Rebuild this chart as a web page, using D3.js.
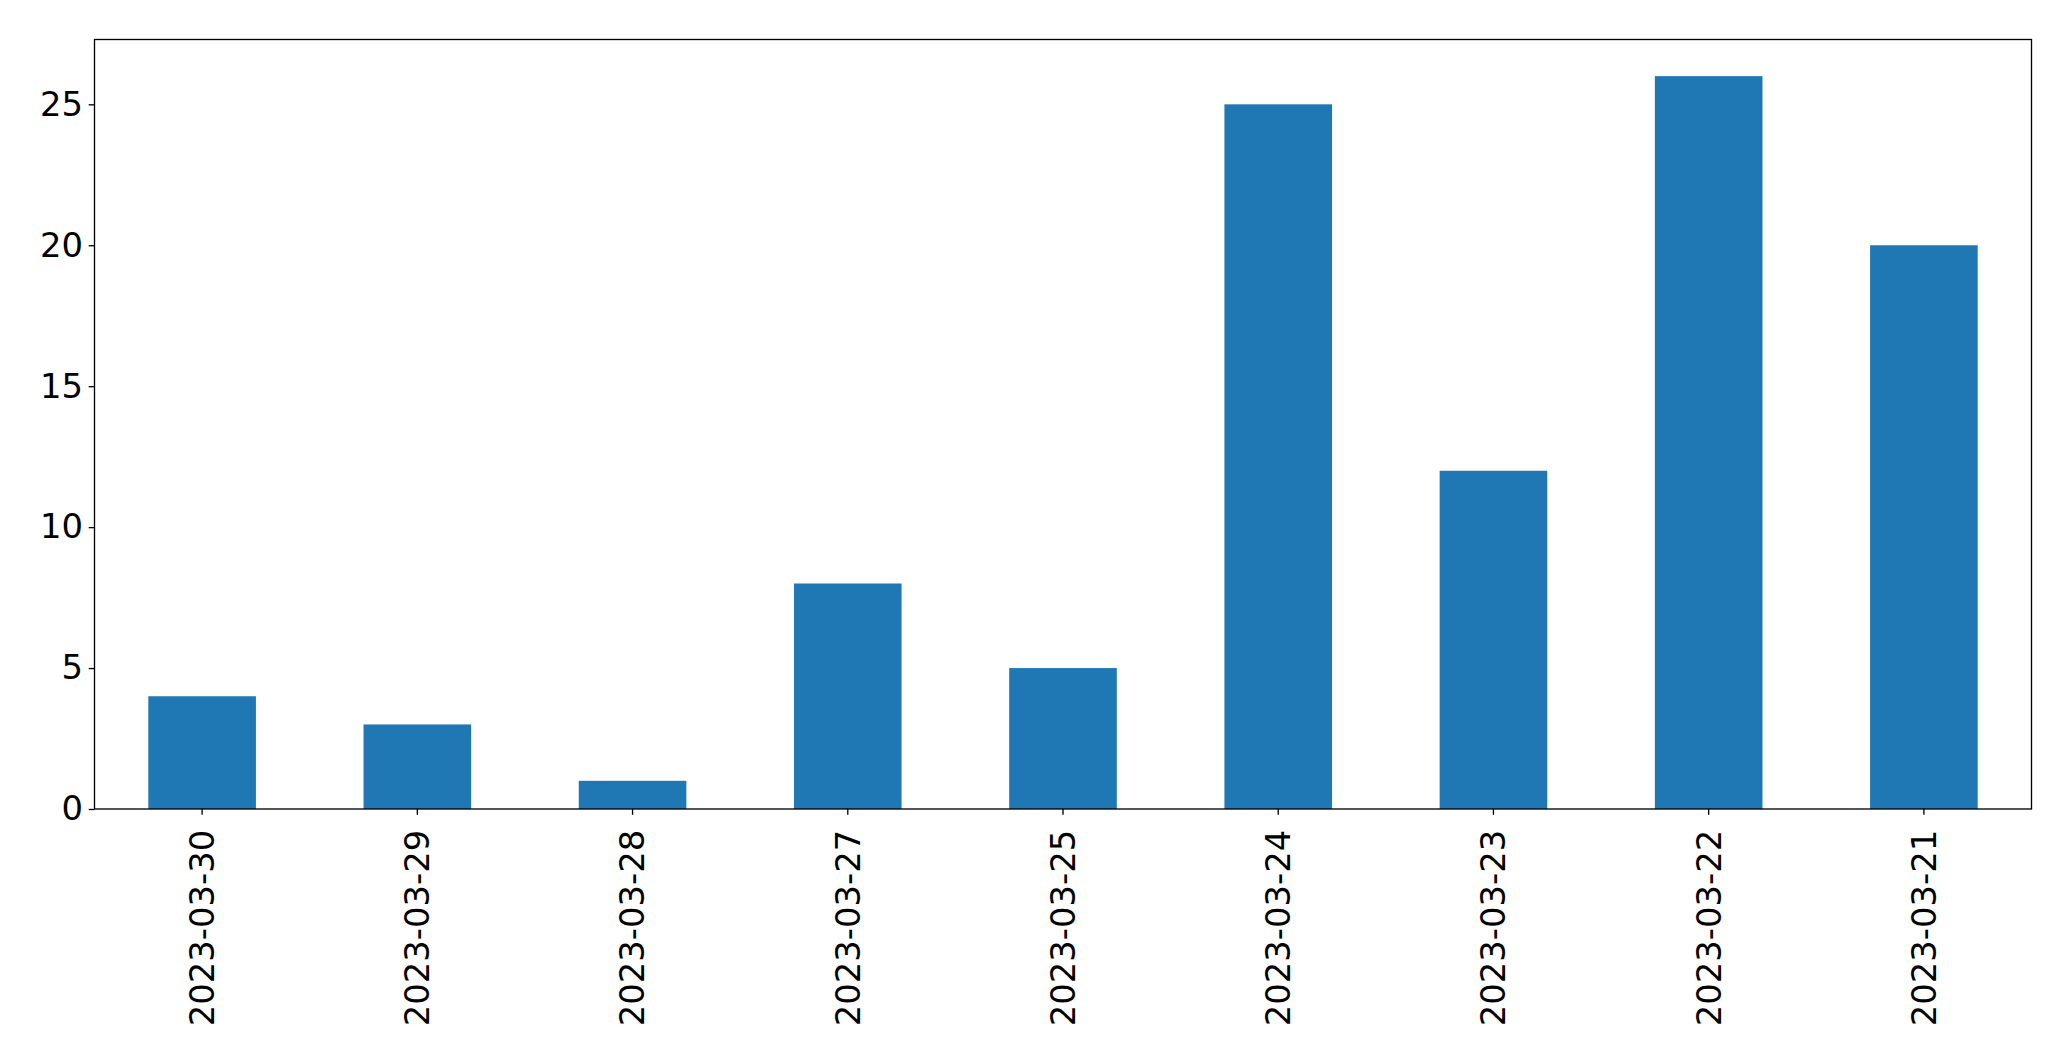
<!DOCTYPE html>
<html>
<head>
<meta charset="utf-8">
<script src="https://cdn.jsdelivr.net/npm/d3@7"></script>
<style>
  html, body { margin: 0; padding: 0; background: #fff; }
  svg { display: block; }
  text { font-family: "DejaVu Sans", sans-serif; fill: #000; }
</style>
</head>
<body>
<svg id="chart" width="2071" height="1061"></svg>
<script>
const categories = ["2023-03-30", "2023-03-29", "2023-03-28", "2023-03-27", "2023-03-25", "2023-03-24", "2023-03-23", "2023-03-22", "2023-03-21"];
const values = [4, 3, 1, 8, 5, 25, 12, 26, 20];
const yTicks = [0, 5, 10, 15, 20, 25];

const W = 2071, H = 1061;
const margin = { left: 94.5, right: W - 2031.5, top: 39.5, bottom: H - 809 };
const pw = W - margin.left - margin.right;
const ph = H - margin.top - margin.bottom;

const svg = d3.select("#chart");
const g = svg.append("g").attr("transform", `translate(${margin.left},${margin.top})`);

const x = d3.scaleBand().domain(categories).range([0, pw]).paddingInner(0.5).paddingOuter(0.25);
const y = d3.scaleLinear().domain([0, d3.max(values) * 1.05]).range([ph, 0]);

g.selectAll("rect.bar")
  .data(values)
  .join("rect")
  .attr("class", "bar")
  .attr("x", (d, i) => x(categories[i]))
  .attr("width", x.bandwidth())
  .attr("y", d => y(d))
  .attr("height", d => y(0) - y(d))
  .attr("fill", "#1f77b4");

const fs = 33.8;
const tickLen = 5.8, pad = 5.8;

const xAxis = g.append("g")
  .attr("transform", `translate(0,${ph})`)
  .call(d3.axisBottom(x).tickSize(tickLen).tickPadding(pad));
xAxis.select(".domain").remove();
xAxis.selectAll(".tick line").attr("stroke", "#000").attr("stroke-width", 1.33);
xAxis.selectAll(".tick text")
  .attr("font-size", fs)
  .attr("font-family", "DejaVu Sans, sans-serif")
  .attr("text-anchor", "end")
  .attr("transform", `translate(0,${tickLen + pad}) rotate(-90)`)
  .attr("x", 0).attr("y", 0)
  .attr("dx", "-0.27em")
  .attr("dy", "0.35em");

const yAxis = g.append("g")
  .call(d3.axisLeft(y).tickValues(yTicks).tickSize(tickLen).tickPadding(pad).tickFormat(d3.format("d")));
yAxis.select(".domain").remove();
yAxis.selectAll(".tick line").attr("stroke", "#000").attr("stroke-width", 1.33);
yAxis.selectAll(".tick text")
  .attr("font-size", fs)
  .attr("font-family", "DejaVu Sans, sans-serif");

g.append("rect")
  .attr("x", 0).attr("y", 0)
  .attr("width", pw).attr("height", ph)
  .attr("fill", "none")
  .attr("stroke", "#000")
  .attr("stroke-width", 1.33);
</script>
</body>
</html>
